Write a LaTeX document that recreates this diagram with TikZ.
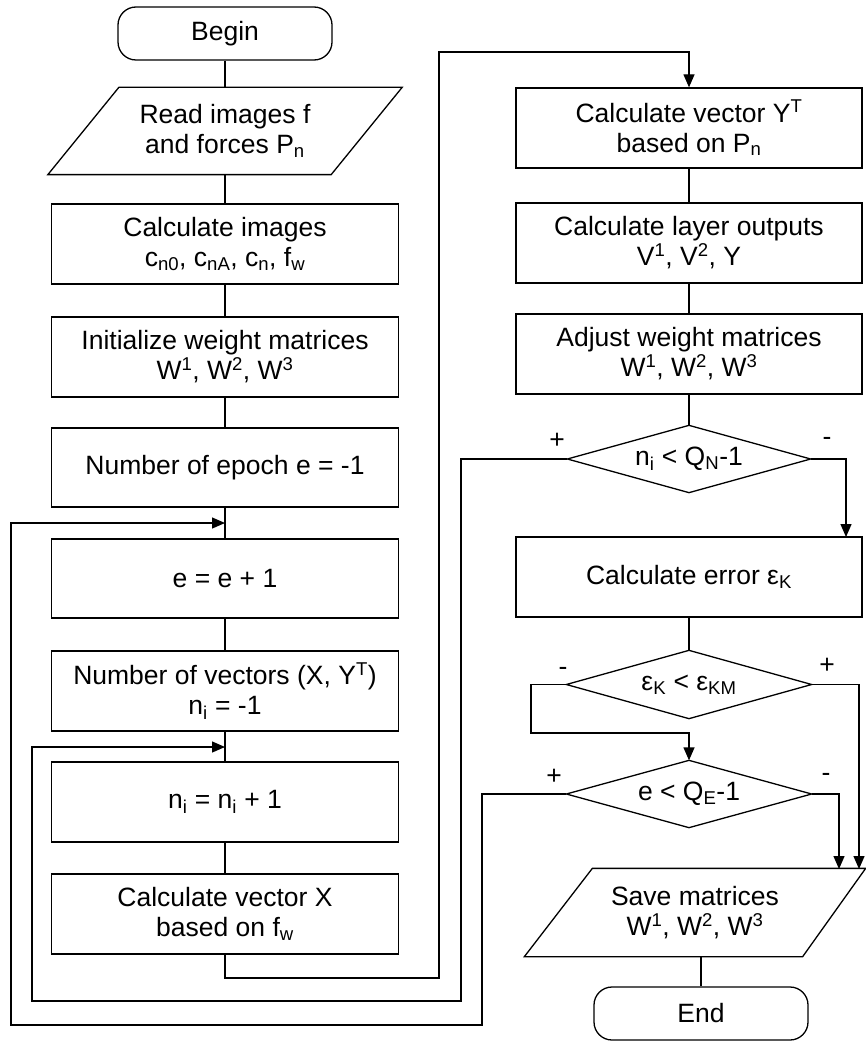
\documentclass[tikz,border=0pt]{standalone}
\usepackage{fontspec}
\setmainfont{Liberation Sans}
\usetikzlibrary{arrows.meta,calc}
\newcommand\mfs{\fontsize{26.5}{30}\selectfont}
\begin{document}
\begin{tikzpicture}[x=1pt,y=-1pt,line width=1.3pt,
  every node/.style={font=\mfs,align=center,inner sep=1pt},
  box/.style={draw,minimum width=347pt,minimum height=80pt},
  term/.style={draw,rounded corners=18pt,minimum width=214pt,minimum height=53pt},
  arr/.style={-{Triangle[length=13pt,width=11pt]}}]
\useasboundingbox (0,0) rectangle (865,1043);

% left column
\node[term] (begin) at (225,33.5) {Begin};
\node[minimum width=353pt,minimum height=86pt] (rd) at (225,131) {Read images f\\and forces P\textsubscript{n}};
\draw (rd.south west) -- ($(rd.south east)+(-71,0)$) -- (rd.north east) -- ($(rd.north west)+(71,0)$) -- cycle;
\node[box] (ci) at (225,244) {Calculate images\\c\textsubscript{n0}, c\textsubscript{nA}, c\textsubscript{n}, f\textsubscript{w}};
\node[box] (init) at (225,357) {Initialize weight matrices\\W\textsuperscript{1}, W\textsuperscript{2}, W\textsuperscript{3}};
\node[box,minimum height=79pt] (ep) at (225,467.5) {Number of epoch e = -1};
\node[box,minimum height=79pt] (e1) at (225,578.5) {e = e + 1};
\node[box] (nv) at (225,691) {Number of vectors (X, Y\textsuperscript{T})\\n\textsubscript{i} = -1};
\node[box] (ni) at (225,802) {n\textsubscript{i} = n\textsubscript{i} + 1};
\node[box] (vx) at (225,914) {Calculate vector X\\based on f\textsubscript{w}};

% right column
\node[box,minimum width=346pt] (yt) at (689,128) {Calculate vector Y\textsuperscript{T}\\based on P\textsubscript{n}};
\node[box,minimum width=346pt] (lo) at (689,243) {Calculate layer outputs\\V\textsuperscript{1}, V\textsuperscript{2}, Y};
\node[box,minimum width=346pt] (aw) at (689,354) {Adjust weight matrices\\W\textsuperscript{1}, W\textsuperscript{2}, W\textsuperscript{3}};
\node[minimum width=242pt,minimum height=66pt] (d1) at (689,459) {n\textsubscript{i} < Q\textsubscript{N}-1};
\draw (d1.north) -- (d1.east) -- (d1.south) -- (d1.west) -- cycle;
\node[box,minimum width=346pt] (er) at (689,577) {Calculate error ε\textsubscript{K}};
\node[minimum width=244pt,minimum height=67pt] (d2) at (689,684.5) {ε\textsubscript{K} < ε\textsubscript{KM}};
\draw (d2.north) -- (d2.east) -- (d2.south) -- (d2.west) -- cycle;
\node[minimum width=244pt,minimum height=66pt] (d3) at (689,794) {e < Q\textsubscript{E}-1};
\draw (d3.north) -- (d3.east) -- (d3.south) -- (d3.west) -- cycle;
\node[minimum width=340pt,minimum height=87pt] (sv) at (695,912.5) {Save matrices\\W\textsuperscript{1}, W\textsuperscript{2}, W\textsuperscript{3}};
\draw (sv.south west) -- ($(sv.south east)+(-63,0)$) -- (sv.north east) -- ($(sv.north west)+(68,0)$) -- cycle;
\node[term] (end) at (701,1013.5) {End};

% signs
\node (p1) at (557,441) {+};
\node (m1s) at (827,441) {-};
\node (m2s) at (563,671) {-};
\node (p2) at (827,666) {+};
\node (p3) at (554,777) {+};
\node (m3s) at (826,777) {-};

% coordinates
\coordinate (m0) at (225,523);
\coordinate (mi) at (225,747);
\coordinate (jx) at (439,978);
\coordinate (jy) at (439,52);
\coordinate (l1a) at (461,1001);
\coordinate (l1b) at (32,1001);
\coordinate (l2a) at (482,1025);
\coordinate (l2b) at (11,1025);
\coordinate (ea) at (846,537);
\coordinate (l3) at (531,733);
\coordinate (s1) at (859,869);
\coordinate (s2) at (839,869);

% connectors
\draw (begin) -- (rd);
\draw (rd) -- (ci);
\draw (ci) -- (init);
\draw (init) -- (ep);
\draw (ep) -- (e1);
\draw (e1) -- (nv);
\draw (nv) -- (ni);
\draw (ni) -- (vx);
\draw[arr] (vx.south) |- (jx) -- (jy) -| (yt.north);
\draw (yt) -- (lo);
\draw (lo) -- (aw);
\draw (aw.south) -- (d1.north);
\draw[arr] (d1.east) -| (ea);
\draw[arr] (d1.west) -| (l1a) -- (l1b) |- (mi);
\draw (er.south) -- (d2.north);
\draw[arr] (d2.west) -| (l3) -| (d3.north);
\draw[arr] (d2.east) -| (s1);
\draw[arr] (d3.east) -| (s2);
\draw[arr] (d3.west) -| (l2a) -- (l2b) |- (m0);
\draw (end.north) -- (end.north |- sv.south);
\end{tikzpicture}
\end{document}
